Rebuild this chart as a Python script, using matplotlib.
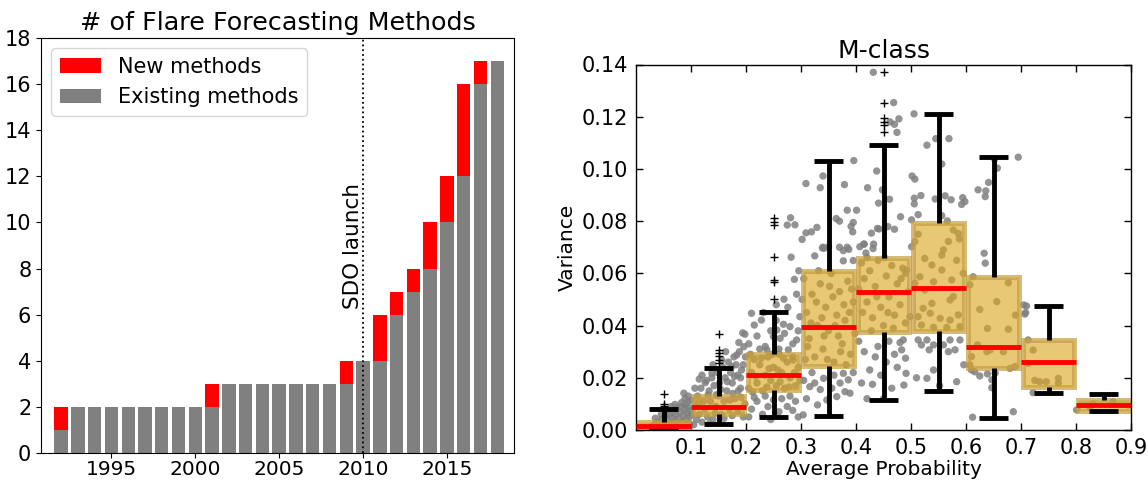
import matplotlib
matplotlib.use("Agg")
import matplotlib.pyplot as plt
import numpy as np

# ---------------- Left panel data ----------------
years = list(range(1992, 2019))
existing = [1, 2, 2, 2, 2, 2, 2, 2, 2, 2, 3, 3, 3, 3, 3, 3, 3, 3, 4, 4, 6, 7, 8, 10, 12, 16, 17]
new = [1, 0, 0, 0, 0, 0, 0, 0, 0, 1, 0, 0, 0, 0, 0, 0, 0, 1, 0, 2, 1, 1, 2, 2, 4, 1, 0]
left_yticks = list(range(0, 19, 2))
left_xticks = [1995, 2000, 2005, 2010, 2015]
sdo_year = 2010

# ---------------- Right panel data ----------------
box_pos = [0.05, 0.15, 0.25, 0.35, 0.45, 0.55, 0.65, 0.75, 0.85]
box_q1 = [0.0000, 0.0061, 0.0153, 0.0244, 0.0374, 0.0380, 0.0237, 0.0163, 0.0074]
box_q3 = [0.0031, 0.0131, 0.0290, 0.0609, 0.0660, 0.0791, 0.0587, 0.0344, 0.0115]
box_med = [0.0017, 0.0089, 0.0211, 0.0396, 0.0528, 0.0545, 0.0319, 0.0259, 0.0097]
box_lo = [0.0000, 0.0024, 0.0049, 0.0055, 0.0115, 0.0148, 0.0047, 0.0143, 0.0074]
box_hi = [0.0079, 0.0239, 0.0452, 0.1032, 0.1091, 0.1211, 0.1045, 0.0475, 0.0137]
box_fliers = [
    [0.0092, 0.0098, 0.0138],
    [0.0255, 0.0268, 0.0284, 0.0296, 0.0307, 0.0367],
    [0.0502, 0.0566, 0.0575, 0.0662, 0.0785, 0.0797, 0.0812],
    [],
    [0.114, 0.1168, 0.118, 0.1195, 0.1254, 0.137],
    [], [], [], [],
]

pts_b0 = [(0.020,0.0008),(0.028,0.0012),(0.033,0.0020),(0.038,0.0006),(0.040,0.0030),(0.044,0.0015),
          (0.047,0.0042),(0.050,0.0025),(0.053,0.0055),(0.056,0.0010),(0.058,0.0038),(0.061,0.0062),
          (0.063,0.0022),(0.066,0.0048),(0.068,0.0072),(0.070,0.0032),(0.072,0.0058),(0.074,0.0085),
          (0.076,0.0018),(0.078,0.0045),(0.080,0.0068),(0.082,0.0090),(0.084,0.0030),(0.086,0.0055),
          (0.087,0.0141),(0.088,0.0078),(0.090,0.0098),(0.091,0.0040),(0.093,0.0065),(0.094,0.0088),
          (0.096,0.0110),(0.097,0.0025),(0.098,0.0052),(0.099,0.0075),(0.064,0.0090),(0.057,0.0075),
          (0.071,0.0098),(0.083,0.0105),(0.046,0.0060),(0.035,0.0045),(0.089,0.0120),(0.095,0.0130)]
pts_b1 = [(0.105,0.002),(0.110,0.004),(0.115,0.006),(0.120,0.003),(0.125,0.008),(0.130,0.005),(0.135,0.011),
          (0.140,0.004),(0.145,0.009),(0.150,0.013),(0.155,0.006),(0.160,0.011),(0.165,0.015),(0.170,0.008),
          (0.175,0.018),(0.180,0.012),(0.185,0.021),(0.190,0.016),(0.195,0.025),(0.198,0.010),(0.108,0.009),
          (0.112,0.013),(0.118,0.016),(0.123,0.011),(0.128,0.019),(0.133,0.015),(0.138,0.020),(0.142,0.017),
          (0.148,0.022),(0.152,0.018),(0.158,0.024),(0.162,0.020),(0.168,0.026),(0.172,0.022),(0.178,0.028),
          (0.182,0.025),(0.188,0.030),(0.192,0.023),(0.163,0.030),(0.174,0.0243),(0.183,0.0287),(0.196,0.0319),
          (0.198,0.0367),(0.194,0.0372),(0.120,0.021),(0.126,0.0181),(0.138,0.0217),(0.156,0.0268),
          (0.115,0.0195),(0.107,0.016),(0.140,0.025),(0.146,0.0135),(0.190,0.020),(0.186,0.015),(0.176,0.014),
          (0.166,0.0185),(0.154,0.0155),(0.134,0.0025),(0.144,0.0065),(0.160,0.0045),(0.175,0.0055),
          (0.185,0.007),(0.195,0.005),(0.114,0.0105),(0.102,0.006),(0.101,0.0115),(0.131,0.0135),
          (0.171,0.0115),(0.191,0.0125),(0.199,0.028),(0.187,0.0335),(0.179,0.0205)]
pts_b2 = [(0.205,0.016),(0.210,0.022),(0.215,0.027),(0.220,0.018),(0.225,0.025),(0.230,0.015),(0.235,0.021),
          (0.240,0.028),(0.245,0.019),(0.250,0.024),(0.255,0.017),(0.260,0.029),(0.265,0.022),(0.270,0.016),
          (0.275,0.026),(0.280,0.020),(0.285,0.028),(0.290,0.017),(0.295,0.024),(0.208,0.029),(0.218,0.0205),
          (0.228,0.0275),(0.238,0.0165),(0.248,0.029),(0.258,0.023),(0.268,0.0275),(0.278,0.0165),
          (0.288,0.022),(0.298,0.019),(0.212,0.0145),(0.262,0.0185),(0.242,0.0235),
          (0.205,0.033),(0.220,0.036),(0.235,0.032),(0.245,0.038),(0.260,0.031),(0.270,0.037),(0.285,0.033),
          (0.295,0.038),(0.225,0.031),(0.255,0.042),(0.268,0.0405),(0.232,0.045),(0.215,0.0402),
          (0.210,0.0447),(0.228,0.0421),(0.256,0.0383),(0.262,0.0351),(0.280,0.0396),(0.292,0.0345),
          (0.298,0.0434),(0.277,0.0307),(0.286,0.0268),(0.238,0.0307),(0.250,0.0358),
          (0.282,0.0662),(0.288,0.0577),(0.269,0.0501),(0.281,0.0813),(0.275,0.0785),(0.289,0.0786),
          (0.292,0.052),(0.276,0.047),(0.296,0.061),(0.255,0.048),
          (0.205,0.005),(0.210,0.008),(0.220,0.011),(0.230,0.006),(0.235,0.013),(0.240,0.009),(0.250,0.0115),
          (0.260,0.007),(0.265,0.012),(0.275,0.009),(0.280,0.013),(0.290,0.011),(0.295,0.005),(0.215,0.0125),
          (0.245,0.004),(0.285,0.0075)]
pts_b3 = [(0.305,0.058),(0.310,0.045),(0.315,0.035),(0.320,0.052),(0.325,0.028),(0.330,0.040),(0.335,0.056),
          (0.340,0.031),(0.345,0.047),(0.350,0.038),(0.355,0.060),(0.360,0.026),(0.365,0.044),(0.370,0.053),
          (0.375,0.033),(0.380,0.042),(0.385,0.057),(0.390,0.029),(0.395,0.049),(0.398,0.037),(0.308,0.027),
          (0.318,0.041),(0.328,0.049),(0.338,0.043),(0.348,0.027),(0.358,0.051),(0.368,0.036),(0.378,0.048),
          (0.388,0.045),(0.312,0.032),(0.332,0.061),(0.352,0.055),(0.372,0.030),(0.392,0.054),(0.302,0.050),
          (0.342,0.036),(0.362,0.040),(0.382,0.025),
          (0.340,0.0973),(0.309,0.0944),(0.335,0.0928),(0.379,0.0940),(0.396,0.1032),(0.364,0.0810),
          (0.370,0.0800),(0.384,0.0842),(0.395,0.0795),(0.394,0.0759),(0.391,0.0780),(0.329,0.0776),
          (0.319,0.0759),(0.309,0.0755),(0.302,0.0730),(0.340,0.0700),(0.370,0.0700),(0.384,0.0700),
          (0.325,0.0667),(0.339,0.0697),(0.350,0.0702),(0.377,0.0687),(0.387,0.0692),(0.377,0.0648),
          (0.395,0.0649),(0.342,0.0696),
          (0.304,0.0058),(0.316,0.0166),(0.325,0.0180),(0.341,0.0198),(0.347,0.0115),(0.356,0.0160),
          (0.365,0.0128),(0.371,0.0180),(0.377,0.0217),(0.380,0.0147),(0.386,0.0192),(0.389,0.0141),
          (0.330,0.0096),(0.310,0.0120),(0.320,0.0220),(0.395,0.0220),(0.360,0.0210),(0.335,0.0155),
          (0.305,0.0190)]
pts_b4 = [(0.410,0.064),(0.415,0.058),(0.420,0.049),(0.425,0.061),(0.430,0.043),(0.435,0.055),(0.440,0.065),
          (0.445,0.047),(0.450,0.040),(0.455,0.059),(0.460,0.051),(0.465,0.063),(0.470,0.044),(0.475,0.056),
          (0.480,0.048),(0.485,0.062),(0.490,0.041),(0.495,0.053),(0.412,0.045),(0.428,0.038),(0.452,0.066),
          (0.468,0.039),(0.482,0.058),(0.438,0.051),(0.405,0.054),(0.458,0.045),(0.490,0.060),(0.420,0.066),
          (0.4315,0.137),(0.4685,0.1254),(0.478,0.1192),(0.462,0.118),(0.470,0.1171),(0.4745,0.114),
          (0.4376,0.0992),(0.421,0.0928),(0.448,0.0920),(0.441,0.0869),(0.461,0.0884),(0.481,0.0817),
          (0.401,0.0842),(0.428,0.0754),(0.442,0.0770),(0.458,0.0779),(0.470,0.0769),(0.415,0.0712),
          (0.431,0.0695),(0.407,0.0702),(0.414,0.0712),(0.432,0.0712),(0.418,0.0678),(0.439,0.0772),
          (0.405,0.034),(0.415,0.030),(0.425,0.023),(0.410,0.018),(0.435,0.028),(0.440,0.032),(0.445,0.021),
          (0.430,0.0175),(0.455,0.026),(0.460,0.034),(0.465,0.016),(0.470,0.029),(0.475,0.024),(0.480,0.0335),
          (0.486,0.0345),(0.490,0.0275),(0.491,0.0217),(0.487,0.0172),(0.483,0.0307),(0.450,0.012),
          (0.420,0.012)]
pts_b5 = [(0.5055,0.1211),(0.529,0.1091),(0.545,0.1116),(0.569,0.1116),(0.556,0.1019),(0.502,0.0973),
          (0.507,0.0961),(0.506,0.0888),(0.518,0.0898),(0.506,0.0866),(0.544,0.0885),(0.562,0.0897),
          (0.573,0.0882),(0.594,0.0890),(0.598,0.0875),(0.592,0.0864),(0.513,0.0825),(0.501,0.0805),
          (0.556,0.0821),(0.566,0.0801),
          (0.513,0.0750),(0.507,0.0722),(0.577,0.0766),(0.586,0.0753),(0.588,0.0732),(0.568,0.0722),
          (0.501,0.0702),(0.525,0.0657),(0.538,0.0632),(0.556,0.0670),(0.559,0.0690),(0.516,0.0587),
          (0.507,0.0562),(0.525,0.0536),(0.541,0.0568),(0.556,0.0613),(0.574,0.0575),(0.577,0.0511),
          (0.571,0.0498),(0.538,0.0485),(0.522,0.0466),(0.513,0.0434),(0.535,0.0447),(0.553,0.0428),
          (0.571,0.0421),(0.586,0.0441),(0.519,0.0402),(0.541,0.0393),(0.565,0.0393),(0.589,0.0396),
          (0.492,0.0613),(0.498,0.0434),(0.595,0.0600),(0.583,0.0650),
          (0.513,0.0345),(0.519,0.0326),(0.529,0.0345),(0.533,0.0307),(0.541,0.0326),(0.559,0.0326),
          (0.571,0.0345),(0.589,0.0345),(0.580,0.0307),(0.568,0.0300),(0.541,0.0230),(0.529,0.0198),
          (0.583,0.0185),(0.510,0.0200),(0.552,0.0170),(0.596,0.0250)]
pts_b6 = [(0.622,0.0920),(0.635,0.0894),(0.636,0.0916),(0.641,0.0948),(0.652,0.1038),(0.657,0.1003),
          (0.695,0.1045),(0.633,0.0677),(0.635,0.0639),
          (0.613,0.0587),(0.607,0.0556),(0.656,0.0492),(0.677,0.0564),(0.625,0.0462),(0.639,0.0389),
          (0.677,0.0386),(0.621,0.0326),(0.638,0.0300),(0.644,0.0307),(0.610,0.0281),(0.607,0.0249),
          (0.668,0.0300),(0.689,0.0243),(0.680,0.0236),(0.610,0.0230),(0.690,0.0440),
          (0.616,0.0223),(0.625,0.0207),(0.639,0.0215),(0.653,0.0218),(0.647,0.0192),(0.647,0.0162),
          (0.612,0.0049),(0.686,0.0070)]
pts_b7 = [(0.7085,0.0450),(0.705,0.0479),(0.710,0.0475),(0.707,0.0444),(0.713,0.0345),(0.722,0.0306),
          (0.713,0.0255),(0.725,0.0190),(0.734,0.0185),(0.746,0.0185),(0.768,0.0179),(0.768,0.0198),
          (0.722,0.0143)]
pts_b8 = [(0.801,0.0077),(0.825,0.0087),(0.831,0.0100),(0.867,0.0108)]

# ---------------- Figure ----------------
fig = plt.figure(figsize=(11.48, 4.8), dpi=100)
plt.rcParams['font.family'] = ['DejaVu Sans']

# Left panel
axL = fig.add_axes([41 / 1148, 27 / 480, 473 / 1148, 415 / 480])
b_exist = axL.bar(years, existing, width=0.8, color='#808080', label='Existing methods')
b_new = axL.bar(years, new, width=0.8, bottom=existing, color='#ff0000', label='New methods')
axL.axvline(sdo_year, color='k', linestyle=':', linewidth=1.3)
axL.text(sdo_year, 6.25, 'SDO launch', rotation=90, ha='right', va='bottom', fontsize=15.5)
axL.set_xlim(1990.8, 2019.0)
axL.set_ylim(0, 18)
axL.set_yticks(left_yticks)
axL.set_xticks(left_xticks)
axL.tick_params(axis='y', labelsize=15)
axL.tick_params(axis='x', labelsize=14.5, pad=1.5)
axL.set_title('# of Flare Forecasting Methods', fontsize=18.3, pad=6)
axL.legend([b_new, b_exist], ['New methods', 'Existing methods'], loc='upper left', fontsize=15,
           handlelength=2.0)

# Right panel
axR = fig.add_axes([636 / 1148, 50 / 480, 495 / 1148, 365.5 / 480])
all_pts = pts_b0 + pts_b1 + pts_b2 + pts_b3 + pts_b4 + pts_b5 + pts_b6 + pts_b7 + pts_b8
sx = [p[0] for p in all_pts]
sy = [p[1] for p in all_pts]
axR.scatter(sx, sy, s=28, color='#808080', alpha=0.85, edgecolors='none', zorder=1)

stats = []
for i in range(len(box_pos)):
    stats.append(dict(med=box_med[i], q1=box_q1[i], q3=box_q3[i], whislo=box_lo[i],
                      whishi=box_hi[i], fliers=box_fliers[i]))
gold = (0.855, 0.647, 0.125)
bp = axR.bxp(stats, positions=box_pos, widths=0.091, patch_artist=True, manage_ticks=False,
             capwidths=0.054,
             boxprops=dict(facecolor=(*gold, 0.62), edgecolor=(0.78, 0.62, 0.25, 0.7), linewidth=3.6),
             whiskerprops=dict(color='k', linewidth=3.5, solid_capstyle='butt'),
             capprops=dict(color='k', linewidth=3.5, solid_capstyle='butt'),
             medianprops=dict(linewidth=0),
             flierprops=dict(marker='+', markeredgecolor='k', markersize=6, markeredgewidth=1,
                             linestyle='none'))
axR.hlines(box_med, np.array(box_pos) - 0.05, np.array(box_pos) + 0.05, colors='#ff0000',
           linewidth=3.5, zorder=3)

axR.set_xlim(0, 0.9)
axR.set_ylim(0, 0.14)
axR.set_xticks([0.1, 0.2, 0.3, 0.4, 0.5, 0.6, 0.7, 0.8, 0.9])
axR.set_xticklabels(['0.1', '0.2', '0.3', '0.4', '0.5', '0.6', '0.7', '0.8', '0.9'])
axR.set_yticks(np.arange(0, 0.141, 0.02))
axR.set_yticklabels(['%.2f' % v for v in np.arange(0, 0.141, 0.02)])
axR.tick_params(direction='in', top=True, right=True, length=5, width=1, labelsize=15, pad=6)
axR.set_xlabel('Average Probability', fontsize=14.5, labelpad=1)
axR.set_ylabel('Variance', fontsize=14.5, labelpad=3)
axR.set_title('M-class', fontsize=18, pad=5)
for sp in axR.spines.values():
    sp.set_linewidth(1.0)

fig.savefig('out.png', dpi=100)
